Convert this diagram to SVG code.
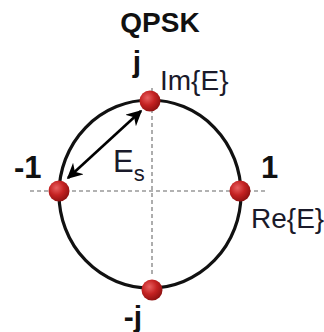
<svg xmlns="http://www.w3.org/2000/svg" width="324" height="332" viewBox="0 0 324 332">
<defs>
<radialGradient id="ball" cx="0.38" cy="0.35" r="0.7">
<stop offset="0" stop-color="#e86060"/>
<stop offset="0.5" stop-color="#c42222"/>
<stop offset="1" stop-color="#8a1010"/>
</radialGradient>
<marker id="ah" viewBox="0 0 10 10" refX="9" refY="5" markerWidth="6" markerHeight="6" orient="auto-start-reverse" markerUnits="strokeWidth">
<path d="M0,0 L10,5 L0,10 L3,5 Z" fill="#000"/>
</marker>
<style>
.axis{stroke:#999;stroke-width:1.6;stroke-dasharray:4 3;fill:none}
.circ{stroke:#111;stroke-width:3.2;fill:none}
.dot{fill:url(#ball)}
.b{font-family:"Liberation Sans",Arial,sans-serif;font-weight:bold;fill:#111}
.r{font-family:"Liberation Sans",Arial,sans-serif;fill:#1a1a2a}
</style>
</defs>
<text class="b" x="160" y="32" font-size="28" text-anchor="middle">QPSK</text>
<g id="axes">
<line class="axis" x1="30" y1="191" x2="268" y2="191"/>
<line class="axis" x1="152" y1="88" x2="152" y2="276"/>
</g>
<g id="circle">
<ellipse class="circ" cx="150" cy="194" rx="91" ry="94"/>
</g>
<g id="connectors">
<line x1="141" y1="111" x2="68" y2="178" stroke="#000" stroke-width="2.6" marker-start="url(#ah)" marker-end="url(#ah)"/>
</g>
<g id="p-top"><circle class="dot" cx="150" cy="101" r="10.5"/></g>
<g id="p-left"><circle class="dot" cx="59" cy="191" r="10.5"/></g>
<g id="p-right"><circle class="dot" cx="240" cy="191" r="10.5"/></g>
<g id="p-bottom"><circle class="dot" cx="152" cy="290" r="10.5"/></g>
<g id="labels">
<text class="b" x="137" y="72" font-size="30" text-anchor="middle">j</text>
<text class="r" x="160" y="90" font-size="28">Im{E}</text>
<text class="b" x="14" y="178" font-size="31">-1</text>
<text class="b" x="261" y="178" font-size="31">1</text>
<text class="r" x="113" y="172" font-size="31">E<tspan font-size="22" dy="9">s</tspan></text>
<text class="r" x="251" y="228" font-size="28">Re{E}</text>
<text class="b" x="133" y="327" font-size="30" text-anchor="middle">-j</text>
</g>
</svg>
